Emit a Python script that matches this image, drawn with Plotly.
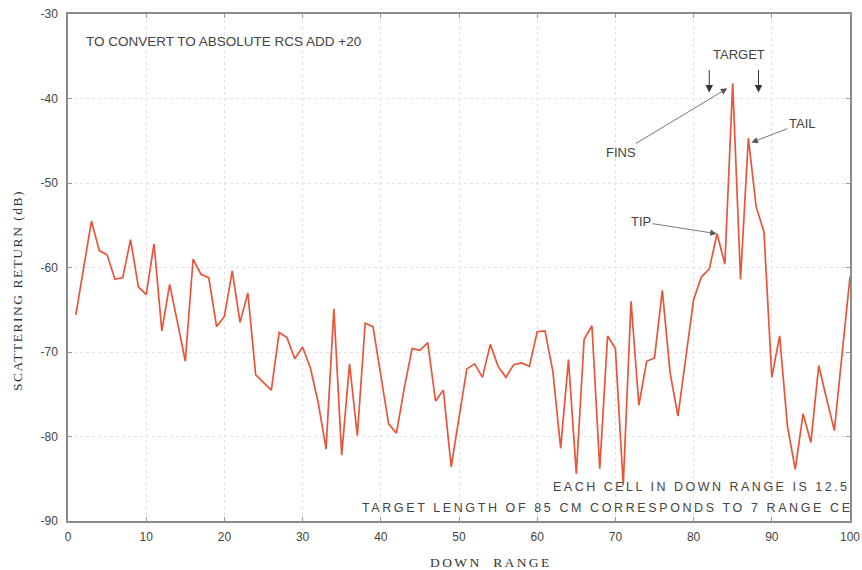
import plotly.graph_objects as go

# Down-range cell index and the scattering return in each cell (dB)
down_range = list(range(1, 101))
return_db = [
    -65.6, -60.0, -54.5, -58.0, -58.5, -61.4, -61.2, -56.7, -62.3, -63.2,
    -57.2, -67.5, -62.0, -66.5, -71.1, -59.0, -60.8, -61.2, -67.0, -65.8,
    -60.4, -66.5, -63.0, -72.7, -73.6, -74.5, -67.7, -68.3, -70.8, -69.4,
    -71.9, -76.0, -81.5, -64.9, -82.2, -71.4, -79.9, -66.6, -67.0, -72.9,
    -78.5, -79.6, -74.3, -69.6, -69.8, -68.9, -75.8, -74.5, -83.6, -77.8,
    -72.0, -71.4, -73.0, -69.1, -71.7, -73.0, -71.5, -71.3, -71.7, -67.6,
    -67.5, -72.3, -81.4, -70.9, -84.4, -68.5, -66.9, -83.8, -68.1, -69.6,
    -85.8, -64.0, -76.3, -71.1, -70.7, -62.7, -72.5, -77.6, -70.6, -63.8,
    -61.1, -60.2, -56.0, -59.6, -38.2, -61.4, -44.7, -52.8, -55.8, -73.0,
    -68.1, -78.8, -83.9, -77.3, -80.7, -71.6, -75.5, -79.3, -70.1, -61.1,
]

x_ticks = [0, 10, 20, 30, 40, 50, 60, 70, 80, 90, 100]
y_ticks = [-90, -80, -70, -60, -50, -40, -30]
y_tick_text = ["-90", "-80", "-70", "-60", "-50", "-40", "-30"]

SANS = "Liberation Sans, Arial, sans-serif"
SERIF = "Liberation Serif, Times New Roman, serif"
TEXT_COLOR = "#444444"

W, H = 862, 570
L, R, T, B = 68, 12, 14, 49
pw, ph = W - L - R, H - T - B


def px_to_paper(px, py):
    """Convert a pixel position on the page to paper coordinates."""
    return (px - L) / pw, (H - B - py) / ph


fig = go.Figure()
fig.add_trace(go.Scatter(
    x=down_range, y=return_db, mode="lines",
    line=dict(color="#e8553a", width=1.7),
    hoverinfo="x+y", showlegend=False,
))

axis_common = dict(
    showgrid=True, gridcolor="#e2e2e2", griddash="dot", gridwidth=1,
    showline=True, linecolor="#8c8c8c", linewidth=1.5, mirror="ticks",
    ticks="inside", ticklen=4, tickcolor="#9a9a9a",
    tickfont=dict(family=SANS, size=12, color=TEXT_COLOR),
    zeroline=False, automargin=False,
)

fig.update_xaxes(range=[0, 100], tickvals=x_ticks, ticklabelstandoff=4, **axis_common)
fig.update_yaxes(range=[-90, -30], tickvals=y_ticks, ticktext=y_tick_text,
                 ticklabelstandoff=6, **axis_common)

xt_x, xt_y = px_to_paper(491, 562)
yt_x, yt_y = px_to_paper(17, 291)

annotations = [
    # Notes inside the plot
    dict(x=0.02, y=0.945, xref="paper", yref="paper", xanchor="left", yanchor="middle",
         text="TO CONVERT TO ABSOLUTE RCS ADD +20", showarrow=False,
         font=dict(family=SANS, size=13.5, color=TEXT_COLOR)),
    dict(x=1.003, y=0.068, xref="paper", yref="paper", xanchor="right", yanchor="middle",
         text='<span style="letter-spacing:2.5px">EACH CELL IN DOWN RANGE IS 12.5</span>',
         showarrow=False, font=dict(family=SANS, size=12.5, color=TEXT_COLOR)),
    dict(x=0.374, y=0.025, xref="paper", yref="paper", xanchor="left", yanchor="middle",
         text='<span style="letter-spacing:2.6px">TARGET LENGTH OF 85 CM CORRESPONDS TO 7 RANGE CE</span>',
         showarrow=False, font=dict(family=SANS, size=12.5, color=TEXT_COLOR)),
    # Target features
    dict(x=85.8, y=-34.85, text="TARGET", showarrow=False,
         font=dict(family=SANS, size=13, color=TEXT_COLOR)),
    dict(x=82.0, y=-39.3, ax=0, ay=-24, text="", showarrow=True,
         arrowhead=2, arrowsize=1.5, arrowwidth=1, arrowcolor="#333333"),
    dict(x=88.3, y=-39.3, ax=0, ay=-24, text="", showarrow=True,
         arrowhead=2, arrowsize=1.5, arrowwidth=1, arrowcolor="#333333"),
    dict(x=84.3, y=-38.8, ax=70.7, ay=-46.4, axref="x", ayref="y",
         text="FINS", showarrow=True, arrowhead=2, arrowsize=1.6, arrowwidth=0.8,
         arrowcolor="#555555", font=dict(family=SANS, size=13, color=TEXT_COLOR)),
    dict(x=87.4, y=-45.2, ax=93.9, ay=-42.9, axref="x", ayref="y",
         text="TAIL", showarrow=True, arrowhead=2, arrowsize=1.6, arrowwidth=0.8,
         arrowcolor="#555555", font=dict(family=SANS, size=13, color=TEXT_COLOR)),
    dict(x=82.95, y=-56.0, ax=73.3, ay=-54.6, axref="x", ayref="y",
         text="TIP", showarrow=True, arrowhead=2, arrowsize=1.6, arrowwidth=0.8,
         arrowcolor="#555555", font=dict(family=SANS, size=13, color=TEXT_COLOR)),
    # Axis titles
    dict(x=xt_x, y=xt_y, xref="paper", yref="paper", xanchor="center", yanchor="middle",
         showarrow=False, text='<span style="letter-spacing:2.4px">DOWN  RANGE</span>',
         font=dict(family=SERIF, size=13.5, color="#333333")),
    dict(x=yt_x, y=yt_y, xref="paper", yref="paper", xanchor="center", yanchor="middle",
         showarrow=False, textangle=-90,
         text='<span style="letter-spacing:1.5px">SCATTERING RETURN (dB)</span>',
         font=dict(family=SERIF, size=13.5, color="#333333")),
]

fig.update_layout(
    width=W, height=H,
    margin=dict(l=L, r=R, t=T, b=B, autoexpand=False),
    paper_bgcolor="white", plot_bgcolor="white",
    annotations=annotations,
    showlegend=False,
)

fig.write_html("out.html")
